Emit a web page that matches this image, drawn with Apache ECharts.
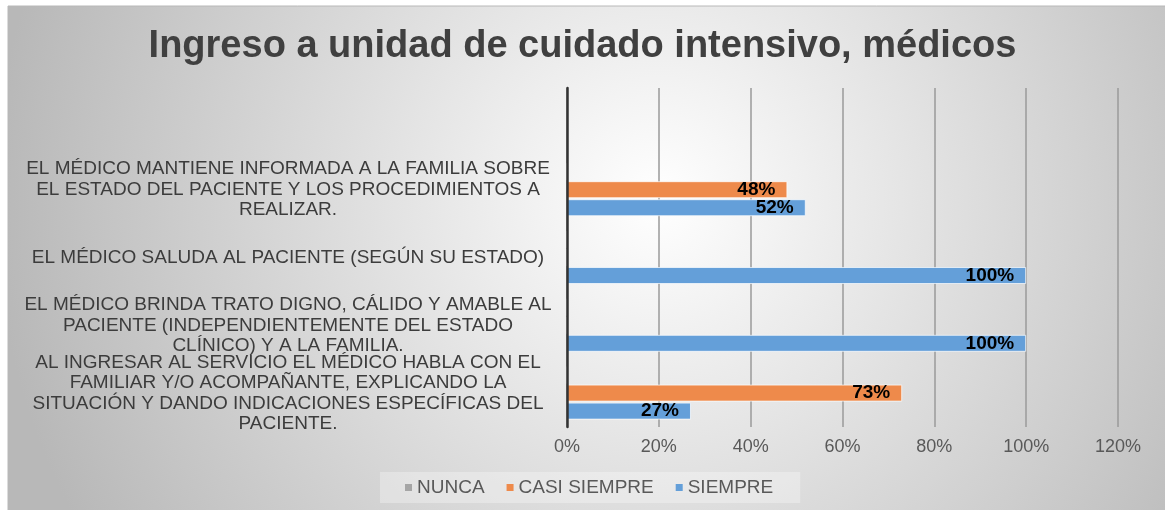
<!DOCTYPE html>
<html lang="es">
<head>
    <meta charset="utf-8">
    <title>Ingreso a unidad de cuidado intensivo, médicos</title>
    <script src="https://cdn.jsdelivr.net/npm/echarts@6/dist/echarts.min.js"></script>
    <style>
        html, body { margin: 0; padding: 0; background: #fff; }
        #main { width: 1165px; height: 510px; }
    </style>
</head>
<body>
<div id="main"></div>
<script>
    // categorias de abajo hacia arriba (la de arriba va vacía, como en el original)
    var categorias = [
        'AL INGRESAR AL SERVICIO EL MÉDICO HABLA CON EL\nFAMILIAR Y/O ACOMPAÑANTE, EXPLICANDO LA\nSITUACIÓN Y DANDO INDICACIONES ESPECÍFICAS DEL\nPACIENTE.',
        'EL MÉDICO BRINDA TRATO DIGNO, CÁLIDO Y AMABLE AL\nPACIENTE (INDEPENDIENTEMENTE DEL ESTADO\nCLÍNICO) Y A LA FAMILIA.',
        'EL MÉDICO SALUDA AL PACIENTE (SEGÚN SU ESTADO)',
        'EL MÉDICO MANTIENE INFORMADA A LA FAMILIA SOBRE\nEL ESTADO DEL PACIENTE Y LOS PROCEDIMIENTOS A\nREALIZAR.',
        ''
    ];
    var nunca = [0, 0, 0, 0, null];
    var casiSiempre = [73, 0, 0, 48, null];
    var siempre = [27, 100, 100, 52, null];
    var nombres = ['NUNCA', 'CASI SIEMPRE', 'SIEMPRE'];
    var colores = ['#a5a5a5', '#ee8a4b', '#649fd9'];

    var fuente = 'Arial, "Liberation Sans", sans-serif';

    function etiqueta(p) {
        return p.value ? p.value + '%' : '';
    }

    function serie(nombre, datos, color, conEtiqueta) {
        return {
            name: nombre,
            type: 'bar',
            data: datos,
            barWidth: 17,
            barGap: '6%',
            itemStyle: {
                color: color,
                borderColor: 'rgba(255,255,255,0.7)',
                borderWidth: 1
            },
            label: {
                show: conEtiqueta,
                position: 'insideRight',
                distance: 12,
                formatter: etiqueta,
                color: '#000',
                fontFamily: fuente,
                fontWeight: 'bold',
                fontSize: 19
            }
        };
    }

    var myChart = echarts.init(document.getElementById('main'));
    var option = {
        animation: false,
        graphic: [{
            type: 'rect',
            z: -100,
            shape: { x: 8, y: 6, width: 1160, height: 510 },
            style: {
                fill: {
                    type: 'radial', x: 0.56, y: 0.38, r: 1.3,
                    colorStops: [
                        { offset: 0, color: '#ffffff' },
                        { offset: 1, color: '#b8b8b8' }
                    ]
                },
                stroke: '#b8b8b8',
                lineWidth: 1
            }
        }],
        title: {
            text: 'Ingreso a unidad de cuidado intensivo, médicos',
            left: 'center',
            top: 23,
            textStyle: {
                fontFamily: fuente,
                fontSize: 38,
                fontWeight: 'bold',
                color: '#404040'
            }
        },
        legend: {
            data: nombres,
            left: 380,
            top: 472,
            padding: [6, 27, 6, 25],
            backgroundColor: 'rgba(255,255,255,0.3)',
            icon: 'rect',
            itemWidth: 7,
            itemHeight: 7,
            itemGap: 22,
            itemStyle: { borderWidth: 0 },
            textStyle: { fontFamily: fuente, fontSize: 19, color: '#595959' }
        },
        grid: {
            left: 567,
            right: 47,
            top: 88,
            bottom: 83,
            outerBoundsMode: 'none'
        },
        xAxis: {
            type: 'value',
            min: 0,
            max: 120,
            interval: 20,
            axisLine: { show: false },
            axisTick: { show: false },
            splitLine: { show: true, lineStyle: { color: '#9a9a9a', width: 1.5 } },
            axisLabel: {
                formatter: '{value}%',
                margin: 11,
                fontFamily: fuente,
                fontSize: 18,
                color: '#595959'
            }
        },
        yAxis: {
            type: 'category',
            data: categorias,
            z: 5,
            axisLine: { show: true, lineStyle: { color: '#333333', width: 2.5 } },
            axisTick: { show: false },
            splitLine: { show: false },
            axisLabel: {
                interval: 0,
                align: 'center',
                margin: 279,
                lineHeight: 20.5,
                fontFamily: fuente,
                fontSize: 19,
                color: '#3c3c3c'
            }
        },
        series: [
            serie(nombres[0], nunca, colores[0], false),
            serie(nombres[1], casiSiempre, colores[1], true),
            serie(nombres[2], siempre, colores[2], true)
        ]
    };
    myChart.setOption(option);
</script>
</body>
</html>
